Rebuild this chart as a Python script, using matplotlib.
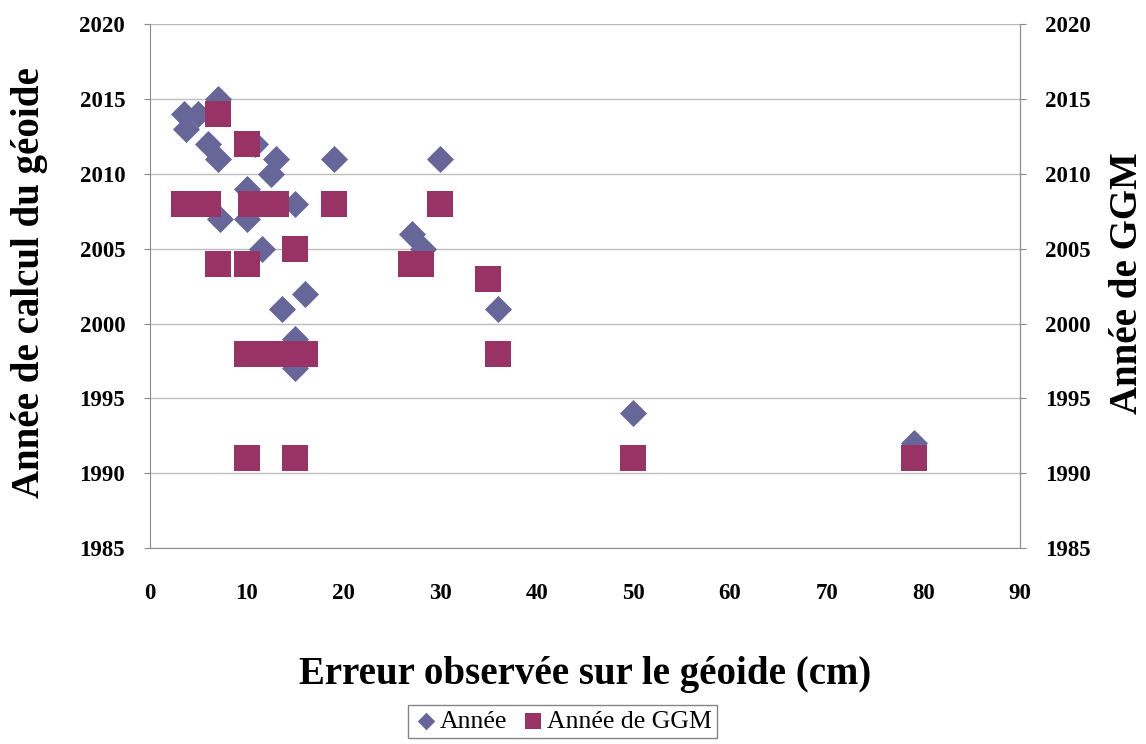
import matplotlib
matplotlib.use("Agg")
import matplotlib.pyplot as plt

# Année (diamonds)
annee_x = [3.5, 5.0, 3.7, 7.0, 6.0, 7.0, 10.8, 13.0, 12.5, 10.0, 7.2, 10.0, 19.0, 15.0,
           11.6, 13.6, 16.0, 15.0, 15.0, 27.1, 28.2, 30.0, 36.0, 50.0, 79.0]
annee_y = [2014, 2014, 2013, 2015, 2012, 2011, 2012, 2011, 2010, 2009, 2007, 2007, 2011, 2008,
           2005, 2001, 2002, 1999, 1997, 2006, 2005, 2011, 2001, 1994, 1992]

# Année de GGM (squares)
ggm_x = [3.5, 6.0, 7.0, 10.0, 10.4, 13.0, 19.0, 30.0, 7.0, 10.0, 15.0, 27.0, 28.0, 35.0,
         10.0, 12.0, 14.0, 16.0, 36.0, 10.0, 15.0, 50.0, 79.0]
ggm_y = [2008, 2008, 2014, 2012, 2008, 2008, 2008, 2008, 2004, 2004, 2005, 2004, 2004, 2003,
         1998, 1998, 1998, 1998, 1998, 1991, 1991, 1991, 1991]

xticks = list(range(0, 91, 10))
yticks = list(range(1985, 2021, 5))

plt.rcParams['font.family'] = ['Liberation Serif', 'DejaVu Serif']

fig = plt.figure(figsize=(11.46, 7.44), dpi=100)
ax = fig.add_axes([0.131, 0.263, 0.759, 0.705])

diamond_c = '#666699'
square_c = '#993366'
spine_c = '#8c8c8c'

ax.scatter(annee_x, annee_y, marker='D', s=190, color=diamond_c, linewidths=0, zorder=3,
           label='Année')
ax.scatter(ggm_x, ggm_y, marker='s', s=340, color=square_c, linewidths=0, zorder=4,
           label='Année de GGM')

ax.set_xlim(0, 90)
ax.set_ylim(1985, 2020)
ax.set_xticks(xticks)
ax.set_yticks(yticks)
ax.grid(axis='y', color='#bdbdbd', linewidth=1.0, zorder=0)
ax.set_axisbelow(True)
ax.spines['top'].set_visible(False)
for s in ['left', 'bottom', 'right']:
    ax.spines[s].set_color(spine_c)
ax.tick_params(axis='y', length=4, color=spine_c, labelsize=16.5, pad=14)
ax.tick_params(axis='x', length=0, labelsize=16.5, pad=25)
for lbl in ax.get_xticklabels() + ax.get_yticklabels():
    lbl.set_fontweight('bold')

ax2 = ax.twinx()
ax2.set_ylim(1985, 2020)
ax2.set_yticks(yticks)
ax2.tick_params(axis='y', length=4, color=spine_c, labelsize=16.5, pad=14)
for lbl in ax2.get_yticklabels():
    lbl.set_fontweight('bold')
for s in ['top', 'left', 'bottom']:
    ax2.spines[s].set_visible(False)
ax2.spines['right'].set_color(spine_c)

fig.text(0.026, 0.62, 'Année de calcul du géoide', rotation=90, ha='center', va='center',
         fontsize=28, fontweight='bold')
fig.text(1.0, 0.62, 'Année de GGM', rotation=90, ha='right', va='center',
         fontsize=28, fontweight='bold')
fig.text(0.511, 0.093, 'Erreur observée sur le géoide (cm)', ha='center', va='center',
         fontsize=28, fontweight='bold')

h1, l1 = ax.get_legend_handles_labels()
leg = fig.legend(h1, l1, loc='upper center', bbox_to_anchor=(0.491, 0.053), ncol=2,
                 fontsize=18.5, frameon=True, fancybox=False, edgecolor='#666666',
                 handletextpad=0.05, columnspacing=0.5, borderpad=0.2, borderaxespad=0,
                 markerscale=0.65, handlelength=1.0)
leg.get_frame().set_linewidth(1.0)

fig.savefig('out.png', dpi=100)
